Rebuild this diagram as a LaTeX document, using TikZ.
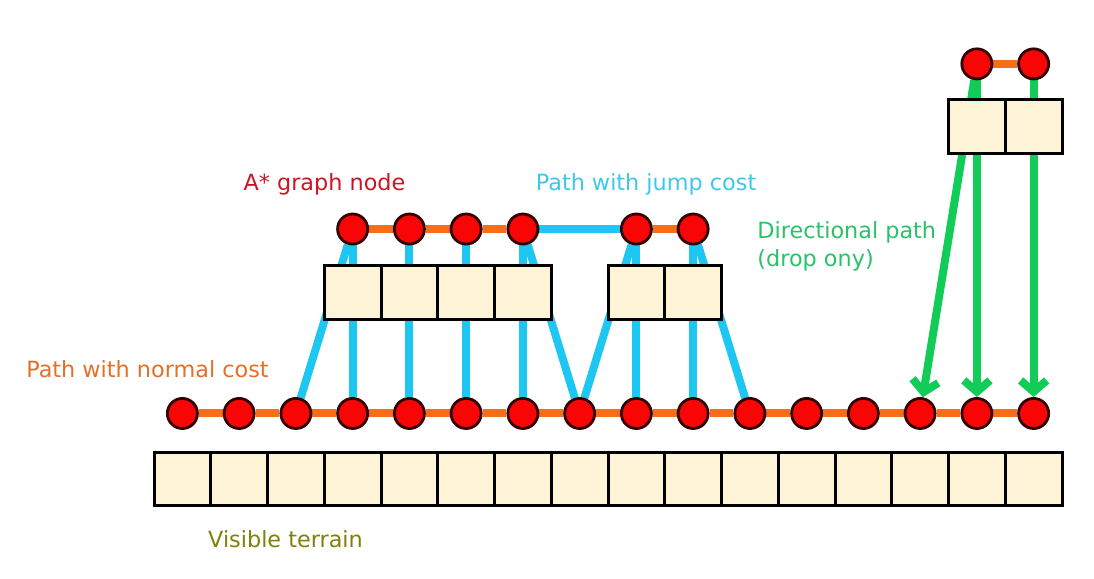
\documentclass[tikz,border=0pt]{standalone}
\usepackage{fontspec}
\setmainfont{DejaVu Sans}
\usetikzlibrary{arrows.meta, backgrounds}
\definecolor{cellfill}{RGB}{253,243,214}
\definecolor{nodered}{RGB}{250,5,5}
\definecolor{normalcol}{RGB}{245,110,25}
\definecolor{jumpcol}{RGB}{30,198,242}
\definecolor{dropcol}{RGB}{18,204,88}
\definecolor{nodetext}{RGB}{205,20,35}
\definecolor{jumptext}{RGB}{60,200,232}
\definecolor{droptext}{RGB}{40,195,105}
\definecolor{normaltext}{RGB}{228,112,40}
\definecolor{terraintext}{RGB}{128,128,10}

\begin{document}
\begin{tikzpicture}[x=1cm, y=1cm,
    every node/.style={font=\fontsize{11.2}{14}\selectfont, align=left},
    lbl/.style={inner sep=0pt},
    cell/.style={draw, line width=1.5pt, fill=cellfill, minimum width=1cm,
                 minimum height=0.95cm, inner sep=0pt},
    gnode/.style={circle, draw=black!80!red, line width=1.4pt, fill=nodered,
                  minimum size=0.53cm, inner sep=0pt},
    normal/.style={draw=normalcol, line width=4pt},
    jump/.style={draw=jumpcol, line width=4pt},
    drop/.style={draw=dropcol, line width=4pt,
                 -{Straight Barb[length=2mm,width=4.6mm]}}]
  \useasboundingbox (-2.714,-1.286) rectangle (16.564,8.916);
  % terrain row and its nodes
  \foreach \i in {1,...,16} {
    \node[cell] (cell\i) at (\i-0.5,0.475) {};
    \node[gnode] (g\i) at (\i-0.5,1.63) {};
  }
  % raised blocks
  \foreach \i in {4,5,6,7,9,10} {
    \node[cell] (ucell\i) at (\i-0.5,3.766) {};
    \node[gnode] (u\i) at (\i-0.5,4.88) {};
  }
  \foreach \i in {15,16} {
    \node[cell] (tcell\i) at (\i-0.5,6.687) {};
    \node[gnode] (t\i) at (\i-0.5,7.79) {};
  }
  % paths
  \begin{scope}[on background layer]
    \foreach \i [count=\j from 2] in {1,...,15}
      \draw[normal] (g\i) -- (g\j);
    \draw[normal] (u4) -- (u5) -- (u6) -- (u7);
    \draw[normal] (u9) -- (u10);
    \draw[normal] (t15) -- (t16);
    \foreach \i in {4,5,6,7,9,10}
      \draw[jump] (u\i) -- (g\i);
    \draw[jump] (u4) -- (g3);
    \draw[jump] (u7) -- (g8);
    \draw[jump] (u9) -- (g8);
    \draw[jump] (u10) -- (g11);
    \draw[jump] (u7) -- (u9);
    \draw[drop] (t15) -- (g14);
    \draw[drop] (t15) -- (g15);
    \draw[drop] (t16) -- (g16);
  \end{scope}
  % labels
  \node[lbl, text=nodetext] (lblnode) at (3.004,5.674) {A* graph node};
  \node[lbl, text=jumptext] (lbljump) at (8.67,5.674) {Path with jump cost};
  \node[lbl, text=droptext, anchor=west] (lbldrop) at (10.626,4.58)
    {Directional path\\(drop ony)};
  \node[lbl, text=normaltext] (lblnormal) at (-0.115,2.414) {Path with normal cost};
  \node[lbl, text=terraintext] (lblterrain) at (2.317,-0.581) {Visible terrain};
\end{tikzpicture}
\end{document}
